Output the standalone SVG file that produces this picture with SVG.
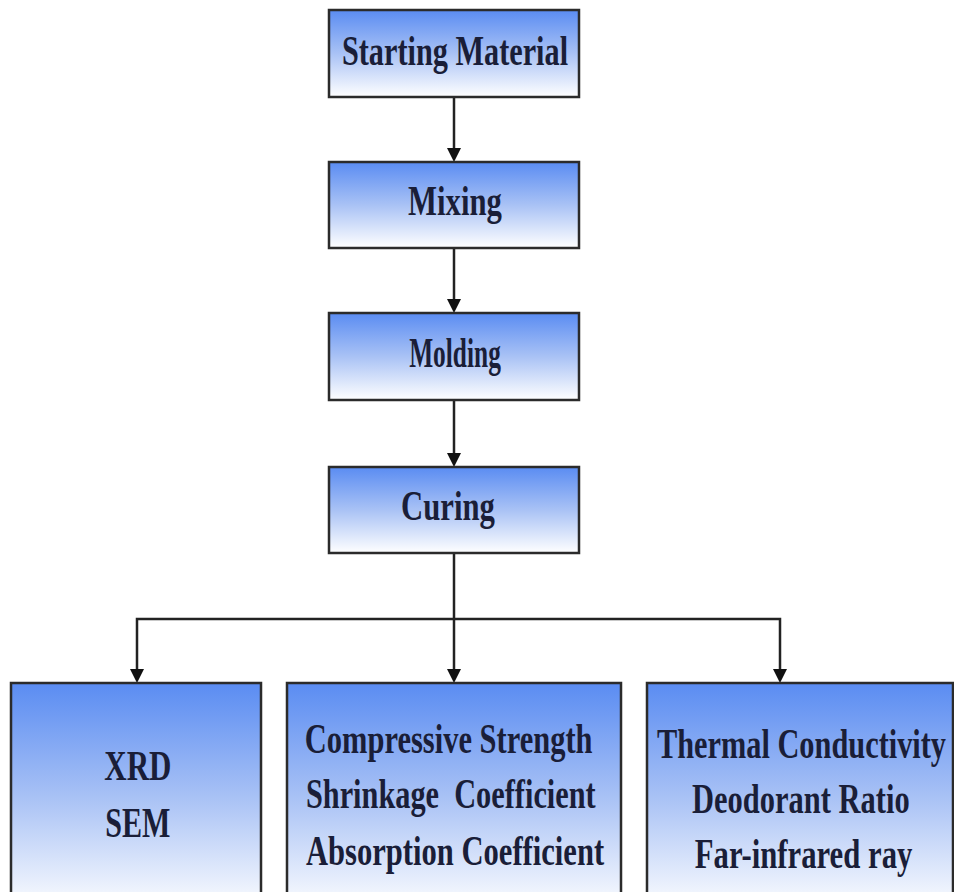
<svg xmlns="http://www.w3.org/2000/svg" width="954" height="892" viewBox="0 0 954 892">
<style>
.box{fill:url(#g);stroke:#2b2b2b;stroke-width:2.5}
.t{font-family:"Liberation Serif","Times New Roman",serif;font-weight:bold;font-size:42px;fill:#1a1e38;text-anchor:middle}
.c{fill:none;stroke:#222;stroke-width:2.5}
.h{fill:#111}
</style>
<defs>
<linearGradient id="g" x1="0" y1="0" x2="0" y2="1">
<stop offset="0" stop-color="#5a8cf2"/>
<stop offset="0.5" stop-color="#a9c2f5"/>
<stop offset="1" stop-color="#ffffff"/>
</linearGradient>
</defs>
<g id="connectors">
<path class="c" d="M454,97 V148"/>
<path class="h" d="M447,148 L461,148 L454,162 Z"/>
<path class="c" d="M454,248 V299"/>
<path class="h" d="M447,299 L461,299 L454,313 Z"/>
<path class="c" d="M454,400 V453"/>
<path class="h" d="M447,453 L461,453 L454,467 Z"/>
<path class="c" d="M454,553 V669"/>
<path class="h" d="M447,669 L461,669 L454,683 Z"/>
<path class="c" d="M137,669 V619 H780 V669"/>
<path class="h" d="M130,669 L144,669 L137,683 Z"/>
<path class="h" d="M773,669 L787,669 L780,683 Z"/>
</g>
<g id="starting">
<rect class="box" x="329" y="10" width="250" height="87"/>
<g transform="scale(0.7,1)"><text class="t" x="650" y="65" textLength="323" lengthAdjust="spacingAndGlyphs" font-size="46">Starting Material</text></g>
</g>
<g id="mixing">
<rect class="box" x="329" y="162" width="250" height="86"/>
<g transform="scale(0.7,1)"><text class="t" x="650" y="215" textLength="134" lengthAdjust="spacingAndGlyphs" font-size="45">Mixing</text></g>
</g>
<g id="molding">
<rect class="box" x="329" y="313" width="250" height="87"/>
<g transform="scale(0.7,1)"><text class="t" x="650" y="367" textLength="131" lengthAdjust="spacingAndGlyphs" font-size="45">Molding</text></g>
</g>
<g id="curing">
<rect class="box" x="329" y="467" width="250" height="86"/>
<g transform="scale(0.7,1)"><text class="t" x="640" y="520" textLength="134" lengthAdjust="spacingAndGlyphs" font-size="45">Curing</text></g>
</g>
<g id="xrd">
<rect class="box" x="11" y="683" width="250" height="230"/>
<g transform="scale(0.7,1)">
<text class="t" x="197" y="780" textLength="96" lengthAdjust="spacingAndGlyphs">XRD</text>
<text class="t" x="197" y="837" textLength="93" lengthAdjust="spacingAndGlyphs">SEM</text>
</g>
</g>
<g id="mechanical">
<rect class="box" x="287" y="683" width="334" height="230"/>
<g transform="scale(0.7,1)">
<text class="t" x="641" y="753" textLength="411" lengthAdjust="spacingAndGlyphs">Compressive Strength</text>
<text class="t" x="644" y="808" textLength="414" lengthAdjust="spacingAndGlyphs" xml:space="preserve">Shrinkage  Coefficient</text>
<text class="t" x="650" y="865" textLength="426" lengthAdjust="spacingAndGlyphs">Absorption Coefficient</text>
</g>
</g>
<g id="functional">
<rect class="box" x="647" y="683" width="306" height="230"/>
<g transform="scale(0.7,1)">
<text class="t" x="1145" y="758" textLength="413" lengthAdjust="spacingAndGlyphs">Thermal Conductivity</text>
<text class="t" x="1144" y="813" textLength="311" lengthAdjust="spacingAndGlyphs">Deodorant Ratio</text>
<text class="t" x="1148" y="868" textLength="311" lengthAdjust="spacingAndGlyphs">Far-infrared ray</text>
</g>
</g>
</svg>
